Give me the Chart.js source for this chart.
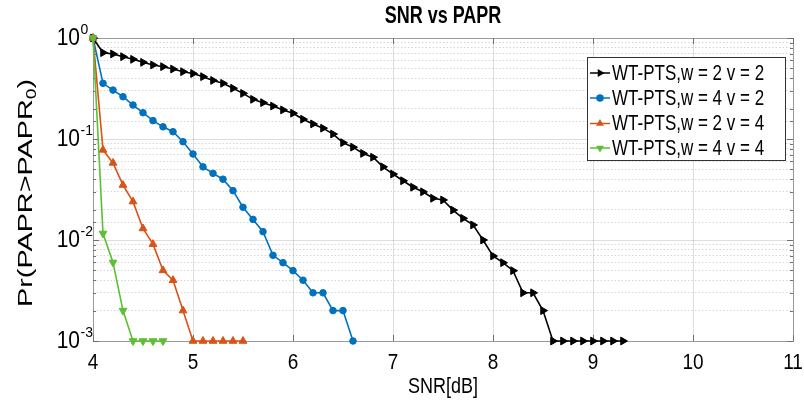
<!DOCTYPE html>
<html>
<head>
<meta charset="utf-8">
<script src="https://cdn.jsdelivr.net/npm/chart.js@4.4.0/dist/chart.umd.min.js"></script>
<style>
  body { margin: 0; background: #fff; }
  #wrap { width: 804px; height: 406px; }
</style>
</head>
<body>
<div id="wrap"><canvas id="chart" width="804" height="406"></canvas></div>
<script>
// SNR grid (dB) per curve
const snrW2V2 = [4.0, 4.1, 4.2, 4.3, 4.4, 4.5, 4.6, 4.7, 4.8, 4.9, 5.0, 5.1, 5.2, 5.3, 5.4, 5.5, 5.6, 5.7, 5.8, 5.9,
  6.0, 6.1, 6.2, 6.3, 6.4, 6.5, 6.6, 6.7, 6.8, 6.9, 7.0, 7.1, 7.2, 7.3, 7.4, 7.5, 7.6, 7.7, 7.8, 7.9,
  8.0, 8.1, 8.2, 8.3, 8.4, 8.5, 8.6, 8.7, 8.8, 8.9, 9.0, 9.1, 9.2, 9.3];
const prW2V2 = [1.0, 0.716, 0.695, 0.653, 0.615, 0.574, 0.541, 0.52, 0.493, 0.464, 0.445, 0.414, 0.380, 0.356, 0.318, 0.283, 0.247, 0.229, 0.212, 0.194,
  0.18, 0.157, 0.141, 0.128, 0.112, 0.092, 0.083, 0.072, 0.066, 0.053, 0.045, 0.0386, 0.0333, 0.030, 0.0259, 0.0249, 0.0198, 0.0164, 0.0141, 0.010,
  0.00695, 0.00596, 0.00497, 0.0030, 0.0030, 0.0020, 0.001, 0.001, 0.001, 0.001, 0.001, 0.001, 0.001, 0.001];

const snrW4V2 = [4.0, 4.1, 4.2, 4.3, 4.4, 4.5, 4.6, 4.7, 4.8, 4.9, 5.0, 5.1, 5.2, 5.3, 5.4, 5.5, 5.6, 5.7, 5.8, 5.9,
  6.0, 6.1, 6.2, 6.3, 6.4, 6.5, 6.6];
const prW4V2 = [1.0, 0.356, 0.305, 0.262, 0.217, 0.182, 0.152, 0.132, 0.118, 0.094, 0.071, 0.053, 0.0457, 0.040, 0.0308, 0.0211, 0.016, 0.0121, 0.00706, 0.00596,
  0.00497, 0.0040, 0.0030, 0.0030, 0.0020, 0.0020, 0.001];

const snrW2V4 = [4.0, 4.1, 4.2, 4.3, 4.4, 4.5, 4.6, 4.7, 4.8, 4.9, 5.0, 5.1, 5.2, 5.3, 5.4, 5.5];
const prW2V4 = [1.0, 0.078, 0.058, 0.035, 0.024, 0.013, 0.0091, 0.0050, 0.0040, 0.0020, 0.001, 0.001, 0.001, 0.001, 0.001, 0.001];

const snrW4V4 = [4.0, 4.1, 4.2, 4.3, 4.4, 4.5, 4.6, 4.7];
const prW4V4 = [1.0, 0.0116, 0.006, 0.002, 0.001, 0.001, 0.001, 0.001];

const seriesNames = ['WT-PTS,w = 2 v = 2', 'WT-PTS,w = 4 v = 2', 'WT-PTS,w = 2 v = 4', 'WT-PTS,w = 4 v = 4'];
const xTickLabels = ['4', '5', '6', '7', '8', '9', '10', '11'];
const yTickValues = [1, 0.1, 0.01, 0.001];
const yTickExps = ['0', '-1', '-2', '-3'];

const colors = ['#000000', '#0072BD', '#D95319', '#5cbf34'];
const styles = [
  { pointStyle: 'triangle', rotation: 90, radius: 4.5 },
  { pointStyle: 'circle', rotation: 0, radius: 3.3 },
  { pointStyle: 'triangle', rotation: 0, radius: 4.5 },
  { pointStyle: 'triangle', rotation: 180, radius: 4.5 }
];

const zip = (xs, ys) => xs.map((v, i) => ({ x: v, y: ys[i] }));
const allData = [zip(snrW2V2, prW2V2), zip(snrW4V2, prW4V2), zip(snrW2V4, prW2V4), zip(snrW4V4, prW4V4)];

const isDecade = v => {
  const l = Math.log10(v);
  return Math.abs(l - Math.round(l)) < 1e-6;
};

function drawText(ctx, str, x, y, font, align, sy) {
  ctx.save();
  ctx.font = font;
  ctx.textAlign = align;
  ctx.textBaseline = 'middle';
  ctx.translate(x, y);
  ctx.scale(1, sy);
  ctx.fillText(str, 0, 0);
  ctx.restore();
}

const FONT = '"Liberation Sans", Arial, Helvetica, sans-serif';

// axes box + inside tick marks, drawn under the data like MATLAB's grid
const boxPlugin = {
  id: 'box',
  beforeDatasetsDraw(chart) {
    const { ctx, chartArea: a, scales: { x, y } } = chart;
    ctx.save();
    ctx.strokeStyle = '#9a9a9a';
    ctx.lineWidth = 1;
    ctx.strokeRect(a.left + 0.5, a.top + 0.5, a.right - a.left, a.bottom - a.top);
    ctx.strokeStyle = '#707070';
    ctx.beginPath();
    xTickLabels.forEach(l => {
      const px = Math.round(x.getPixelForValue(Number(l))) + 0.5;
      ctx.moveTo(px, a.bottom); ctx.lineTo(px, a.bottom - 6);
      ctx.moveTo(px, a.top); ctx.lineTo(px, a.top + 6);
    });
    y.ticks.forEach(t => {
      const py = Math.round(y.getPixelForValue(t.value)) + 0.5;
      const len = isDecade(t.value) ? 6 : 3;
      ctx.moveTo(a.left, py); ctx.lineTo(a.left + len, py);
      ctx.moveTo(a.right, py); ctx.lineTo(a.right - len, py);
    });
    ctx.stroke();
    ctx.restore();
  }
};

const textPlugin = {
  id: 'texts',
  afterDraw(chart) {
    const { ctx, chartArea: a, scales: { x, y } } = chart;
    const cx = (a.left + a.right) / 2;
    ctx.save();
    ctx.fillStyle = '#000';

    drawText(ctx, 'SNR vs PAPR', cx, 17, 'bold 18px ' + FONT, 'center', 1.3);

    xTickLabels.forEach(l => {
      drawText(ctx, l, x.getPixelForValue(Number(l)), 363, '19px ' + FONT, 'center', 1.2);
    });
    drawText(ctx, 'SNR[dB]', cx, 387, '18px ' + FONT, 'center', 1.25);

    yTickValues.forEach((v, i) => {
      const py = y.getPixelForValue(v);
      drawText(ctx, '10', 80, py + 1, '21px ' + FONT, 'right', 1.1);
      drawText(ctx, yTickExps[i], 80.5, py - 8, '14px ' + FONT, 'left', 1.1);
    });

    // y title with subscript, rotated
    ctx.save();
    ctx.translate(26, 193);
    ctx.rotate(-Math.PI / 2);
    ctx.textBaseline = 'middle';
    const main = 'Pr(PAPR>PAPR';
    ctx.font = '21px ' + FONT; const w1 = ctx.measureText(main).width;
    ctx.font = '14px ' + FONT; const w2 = ctx.measureText('0').width;
    ctx.font = '21px ' + FONT; const w3 = ctx.measureText(')').width;
    const total = w1 + w2 + w3;
    ctx.scale(228 / total, 1);
    const sx = -total / 2;
    ctx.textAlign = 'left';
    ctx.fillText(main, sx, 0);
    ctx.font = '14px ' + FONT;
    ctx.fillText('0', sx + w1, 6);
    ctx.font = '21px ' + FONT;
    ctx.fillText(')', sx + w1 + w2, 0);
    ctx.restore();

    // legend
    const lx = 587, ly = 57, lw = 198, lh = 103;
    ctx.fillStyle = '#fff';
    ctx.fillRect(lx, ly, lw, lh);
    ctx.strokeStyle = '#333';
    ctx.lineWidth = 1;
    ctx.strokeRect(lx + 0.5, ly + 0.5, lw, lh);
    const rows = [73, 98, 123.5, 148];
    seriesNames.forEach((name, i) => {
      const ry = rows[i];
      ctx.strokeStyle = colors[i];
      ctx.fillStyle = colors[i];
      ctx.lineWidth = 1.5;
      ctx.beginPath();
      ctx.moveTo(590, ry); ctx.lineTo(610, ry);
      ctx.stroke();
      Chart.helpers.drawPoint(ctx, {
        pointStyle: styles[i].pointStyle,
        rotation: styles[i].rotation,
        radius: 3,
        borderWidth: 1
      }, 600, ry);
      ctx.fillStyle = '#000';
      drawText(ctx, name, 612, ry + 1, '17px ' + FONT, 'left', 1.25);
    });
    ctx.restore();
  }
};

new Chart(document.getElementById('chart'), {
  type: 'line',
  data: {
    datasets: allData.map((d, i) => ({
      label: seriesNames[i],
      data: d,
      borderColor: colors[i],
      backgroundColor: colors[i],
      borderWidth: 1.6,
      pointStyle: styles[i].pointStyle,
      rotation: styles[i].rotation,
      pointRadius: styles[i].radius,
      pointHoverRadius: styles[i].radius,
      pointBorderWidth: 1,
      tension: 0,
      clip: 8,
      order: 3 - i
    }))
  },
  options: {
    responsive: false,
    animation: false,
    layout: { padding: { left: 93, top: 38, right: 11, bottom: 65 } },
    plugins: {
      legend: { display: false },
      title: { display: false },
      tooltip: { enabled: false }
    },
    scales: {
      x: {
        type: 'linear',
        min: 4,
        max: 11,
        ticks: { display: false, stepSize: 1 },
        grid: { color: 'rgba(0,0,0,0.13)', lineWidth: 1, drawTicks: false },
        border: { display: false }
      },
      y: {
        type: 'logarithmic',
        min: 0.001,
        max: 1,
        ticks: { display: false, autoSkip: false },
        grid: {
          drawTicks: false,
          lineWidth: 1,
          color: c => (c.tick && isDecade(c.tick.value)) ? 'rgba(0,0,0,0.13)' : 'rgba(0,0,0,0.16)'
        },
        border: {
          display: false,
          dash: c => (c.tick && !isDecade(c.tick.value)) ? [1.5, 2] : []
        }
      }
    }
  },
  plugins: [boxPlugin, textPlugin]
});
</script>
</body>
</html>
